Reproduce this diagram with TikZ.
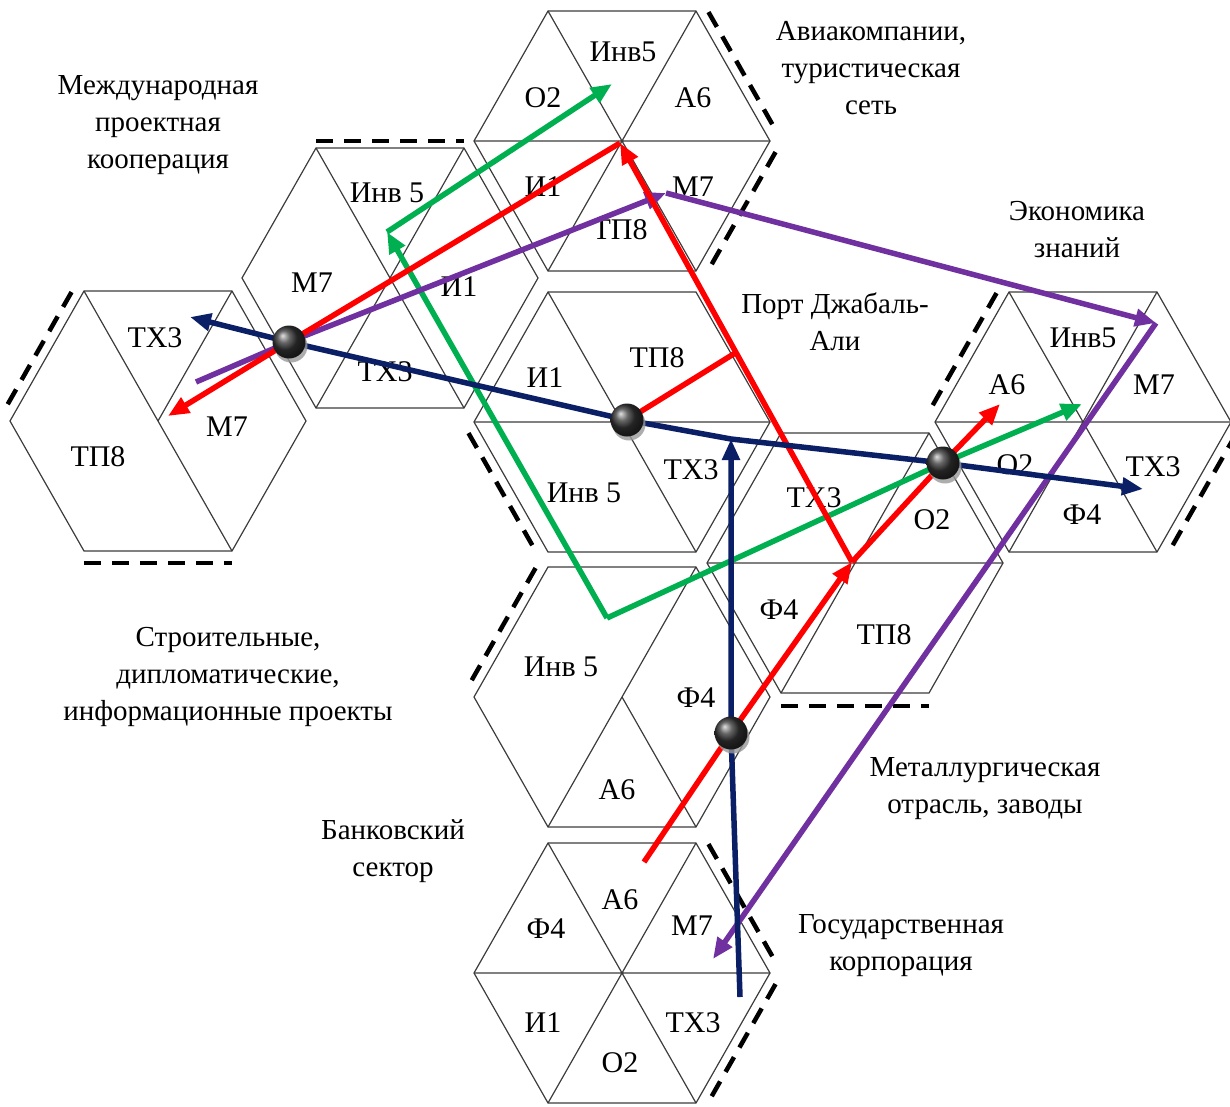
\documentclass[tikz,border=0pt]{standalone}
\usepackage{fontspec}
\setmainfont{Liberation Serif}
\usetikzlibrary{
  arrows.meta,
  calc,
  shadows
}
\definecolor{hxgray}{HTML}{3C3C3C}
\definecolor{lnnavy}{HTML}{0A1F66}
\definecolor{lnred}{HTML}{FF0000}
\definecolor{lngreen}{HTML}{00B050}
\definecolor{lnpurple}{HTML}{7030A0}

\begin{document}
\begin{tikzpicture}[
  x=1pt, y=-1pt,
  hexline/.style={draw=hxgray, line width=1.2pt, line join=miter},
  border/.style={black, line width=4.5pt, dash pattern=on 17pt off 11pt,
    shorten <=7pt, shorten >=7pt},
  cell/.style={font=\fontsize{30}{34}\selectfont, inner sep=0pt},
  caption/.style={font=\fontsize{29}{37}\selectfont, align=center, inner sep=0pt},
  route/.style={line width=5.5pt, -{Triangle[length=21pt,width=17pt]}},
  plain/.style={line width=5.5pt},
  ball/.style={circle, minimum size=33pt, inner sep=0pt, shading=ball,
    ball color=black!80,
    drop shadow={shadow xshift=2pt, shadow yshift=-4pt, fill=black!40, opacity=0.8}},
  hexa/.pic={
    \coordinate (-c) at (0,0);
    \coordinate (-0) at (148,0);
    \coordinate (-1) at (74,-130);
    \coordinate (-2) at (-74,-130);
    \coordinate (-3) at (-148,0);
    \coordinate (-4) at (-74,130);
    \coordinate (-5) at (74,130);
    \draw[hexline] (-0) -- (-1) -- (-2) -- (-3) -- (-4) -- (-5) -- cycle;
  }
]
  \useasboundingbox (0,0) rectangle (1230,1106);

  % Hexagons
  \pic (top) at (622,141) {hexa};
  \pic (intl) at (390,278) {hexa};
  \pic (far) at (158,421) {hexa};
  \pic (port) at (622,422) {hexa};
  \pic (know) at (1083,422) {hexa};
  \pic (metal) at (855,563) {hexa};
  \pic (bank) at (622,697) {hexa};
  \pic (corp) at (622,973) {hexa};

  % Inner cuts
  \draw[hexline] (top-1) -- (top-4) (top-2) -- (top-5) (top-3) -- (top-0);
  \draw[hexline] (intl-1) -- (intl-4) (intl-2) -- (intl-5);
  \draw[hexline] (far-2) -- (far-5) (far-1) -- (far-c);
  \draw[hexline] (port-2) -- (port-5) (port-3) -- (port-0);
  \draw[hexline] (know-1) -- (know-4) (know-2) -- (know-5) (know-3) -- (know-0);
  \draw[hexline] (metal-1) -- (metal-4) (metal-3) -- (metal-0);
  \draw[hexline] (bank-1) -- (bank-4) (bank-c) -- (bank-5);
  \draw[hexline] (corp-1) -- (corp-4) (corp-2) -- (corp-5) (corp-3) -- (corp-0);

  % Dashed borders
  \draw[border] ([shift={(9,-5)}]top-1) -- ([shift={(9,-5)}]top-0);
  \draw[border] ([shift={(9,5)}]top-0) -- ([shift={(9,5)}]top-5);
  \draw[border, shorten <=0pt, shorten >=0pt] ([shift={(0,-7)}]intl-2) -- ([shift={(0,-7)}]intl-1);
  \draw[border] ([shift={(-9,-5)}]far-2) -- ([shift={(-9,-5)}]far-3);
  \draw[border, shorten <=0pt, shorten >=0pt] ([shift={(0,12)}]far-4) -- ([shift={(0,12)}]far-5);
  \draw[border] ([shift={(-9,5)}]port-3) -- ([shift={(-9,5)}]port-4);
  \draw[border] ([shift={(-9,-5)}]know-2) -- ([shift={(-9,-5)}]know-3);
  \draw[border] ([shift={(9,5)}]know-0) -- ([shift={(9,5)}]know-5);
  \draw[border, shorten <=0pt, shorten >=0pt] ([shift={(0,13)}]metal-4) -- ([shift={(0,13)}]metal-5);
  \draw[border] ([shift={(-9,-5)}]bank-2) -- ([shift={(-9,-5)}]bank-3);
  \draw[border] ([shift={(9,-5)}]corp-1) -- ([shift={(9,-5)}]corp-0);
  \draw[border] ([shift={(9,5)}]corp-0) -- ([shift={(9,5)}]corp-5);

  % Cell labels
  \node[cell] (top-o) at (543,98) {О2};
  \node[cell] (top-inv) at (623,52) {Инв5};
  \node[cell] (top-a) at (693,98) {А6};
  \node[cell] (top-i) at (543,187) {И1};
  \node[cell] (top-tp) at (620,230) {ТП8};
  \node[cell] (top-m) at (693,187) {М7};

  \node[cell] (intl-inv) at (387,193) {Инв 5};
  \node[cell] (intl-m) at (312,283) {М7};
  \node[cell] (intl-i) at (459,287) {И1};
  \node[cell] (intl-tx) at (385,372) {ТХ3};

  \node[cell] (far-tx) at (155,338) {ТХ3};
  \node[cell] (far-tp) at (98,457) {ТП8};
  \node[cell] (far-m) at (227,427) {М7};

  \node[cell] (port-i) at (545,378) {И1};
  \node[cell] (port-tp) at (657,358) {ТП8};
  \node[cell] (port-tx) at (691,470) {ТХ3};
  \node[cell] (port-inv) at (584,493) {Инв 5};

  \node[cell] (know-inv) at (1083,338) {Инв5};
  \node[cell] (know-a) at (1007,385) {А6};
  \node[cell] (know-m) at (1154,385) {М7};
  \node[cell] (know-o) at (1015,465) {О2};
  \node[cell] (know-tx) at (1153,467) {ТХ3};
  \node[cell] (know-f) at (1082,515) {Ф4};

  \node[cell] (metal-tx) at (814,498) {ТХ3};
  \node[cell] (metal-o) at (932,520) {О2};
  \node[cell] (metal-f) at (779,610) {Ф4};
  \node[cell] (metal-tp) at (884,635) {ТП8};

  \node[cell] (bank-inv) at (561,667) {Инв 5};
  \node[cell] (bank-f) at (696,698) {Ф4};
  \node[cell] (bank-a) at (617,790) {А6};

  \node[cell] (corp-f) at (546,929) {Ф4};
  \node[cell] (corp-a) at (620,900) {А6};
  \node[cell] (corp-m) at (692,926) {М7};
  \node[cell] (corp-i) at (543,1023) {И1};
  \node[cell] (corp-o) at (620,1063) {О2};
  \node[cell] (corp-tx) at (693,1023) {ТХ3};

  % Captions
  \node[caption] (intlcap) at (158,125) {Международная\\проектная\\кооперация};
  \node[caption] (aircap) at (871,68) {Авиакомпании,\\туристическая\\сеть};
  \node[caption] (knowcap) at (1077,230) {Экономика\\знаний};
  \node[caption] (portcap) at (835,322) {Порт Джабаль-\\Али};
  \node[caption] (buildcap) at (228,677) {Строительные,\\дипломатические,\\информационные проекты};
  \node[caption] (bankcap) at (393,851) {Банковский\\сектор};
  \node[caption] (metalcap) at (985,789) {Металлургическая\\отрасль, заводы};
  \node[caption] (corpcap) at (901,946) {Государственная\\корпорация};

  % Hubs and route ends
  \coordinate (b1) at (289,342);
  \coordinate (b2) at (627,420);
  \coordinate (b3) at (943,463);
  \coordinate (b4) at (731,733);
  \coordinate (join) at (731,439);
  \coordinate (navyfar) at (190,317);
  \coordinate (navyend) at (1143,489);
  \coordinate (navybase) at (740,997);
  \coordinate (redtop) at (620,143);
  \coordinate (redfar) at (168,416);
  \coordinate (redbend) at (852,562);
  \coordinate (redbase) at (644,862);
  \coordinate (redtip) at (1000,404);
  \coordinate (greentop) at (612,84);
  \coordinate (greenknee) at (387,232);
  \coordinate (greenfoot) at (607,618);
  \coordinate (greentip) at (1082,404);
  \coordinate (purpstart) at (196,382);
  \coordinate (purpbend) at (666,193);
  \coordinate (purpright) at (1156,323);
  \coordinate (purptip) at (713,959);

  % Green
  \draw[route, lngreen] (greenknee) -- (greentop);
  \draw[route, lngreen] (greenfoot) -- (greenknee);
  \draw[route, lngreen] (greenfoot) -- (b3) -- (greentip);

  % Purple
  \draw[route, lnpurple] (purpstart) -- (b1) -- (purpbend);
  \draw[route, lnpurple] (purpbend) -- (purpright);
  \draw[route, lnpurple] (purpright) -- (purptip);

  % Red
  \draw[route, lnred] (redtop) -- (b1) -- (redfar);
  \draw[route, lnred] (redbend) -- (redtop);
  \draw[route, lnred] (redbase) -- (b4) -- (redbend);
  \draw[route, lnred] (redbend) -- (b3) -- (redtip);
  \draw[plain, lnred] (b2) -- ($(redtop)!0.5!(redbend)$);

  % Navy
  \draw[route, lnnavy, {Triangle[length=21pt,width=17pt]}-{Triangle[length=21pt,width=17pt]}]
    (navyfar) -- (b1) -- (b2) -- (join) -- (b3) -- (navyend);
  \draw[route, lnnavy] (navybase) -- (b4) -- (join);

  % Hub balls
  \node[ball] (hub1) at (b1) {};
  \node[ball] (hub2) at (b2) {};
  \node[ball] (hub3) at (b3) {};
  \node[ball] (hub4) at (b4) {};

\end{tikzpicture}
\end{document}
